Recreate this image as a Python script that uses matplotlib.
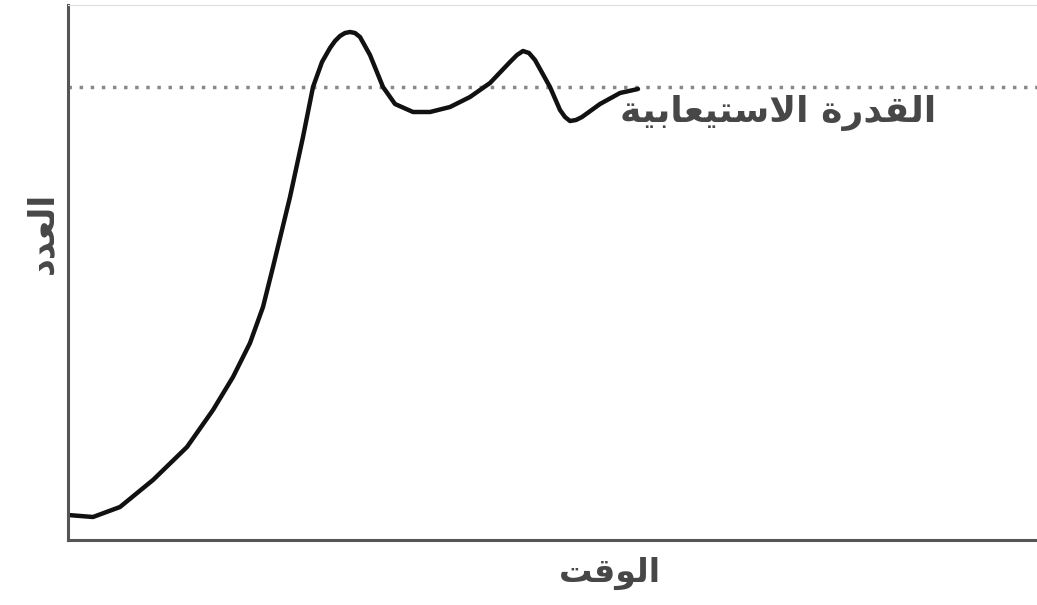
import matplotlib
matplotlib.use("Agg")
import matplotlib.pyplot as plt

# curve (time, number)
time = [0, 2.5, 5.2, 8.5, 11.9, 14.5, 16.5, 18.2, 19.5, 20.5, 22.2, 23.5,
        24.5, 25.4, 26.2, 26.7, 27.2, 27.7, 28.2, 28.7, 29.2, 30.2, 31.5,
        32.7, 34.5, 36.2, 38.2, 40.2, 42.2, 44.2, 44.9, 45.5, 46.1, 46.7,
        48.2, 49.2, 49.7, 50.2, 50.8, 51.4, 53.2, 55.2, 57.0]
number = [2.5, 2.3, 3.3, 6.0, 9.3, 13.0, 16.3, 19.7, 23.3, 27.3, 34.3, 40.3,
          45.3, 47.8, 49.2, 49.9, 50.4, 50.7, 50.8, 50.7, 50.3, 48.5, 45.3,
          43.6, 42.8, 42.8, 43.3, 44.3, 45.7, 47.8, 48.5, 48.9, 48.7, 48.0,
          45.3, 43.0, 42.3, 41.9, 42.0, 42.3, 43.6, 44.7, 45.1]
capacity = 45.3

# arabic labels, pre-shaped and in visual order
label_number = "\uFEA9\uFEAA\uFECC\uFEDF\uFE8D"
label_time = "\uFE96\uFED7\uFEEE\uFEDF\uFE8D"
label_capacity = ("\uFE94\uFEF4\uFE91\uFE8E\uFECC\uFEF4\uFE98\uFEB3\uFEFB\uFE8D"
                  " \uFE93\uFEAD\uFEAA\uFED8\uFEDF\uFE8D")

fig = plt.figure(figsize=(10.37, 6.05), dpi=100)
ax = fig.add_axes([68 / 1037, 65 / 605, 1 - 68 / 1037, 535 / 605])

ax.plot(time, number, color="#111111", lw=3.2, solid_capstyle="round",
        solid_joinstyle="round")
ax.axhline(capacity, color="#888888", lw=2.5, ls=(0, (1, 2.2)), zorder=1)

ax.set_xlim(0, 96.9)
ax.set_ylim(0, 53.5)
ax.set_xticks([])
ax.set_yticks([])
ax.spines["right"].set_visible(False)
ax.spines["top"].set_color("#dddddd")
for s in ("left", "bottom"):
    ax.spines[s].set_color("#555555")
    ax.spines[s].set_linewidth(2.2)

ax.text(55.2, 42.7, label_capacity, fontsize=26, fontweight="bold",
        color="#474747", va="center", ha="left", family="DejaVu Sans")
fig.text(42 / 1037, 1 - 233 / 605, label_number, fontsize=25, fontweight="bold",
         rotation=90, color="#474747", ha="center", va="center",
         family="DejaVu Sans")
fig.text(610 / 1037, 1 - 573 / 605, label_time, fontsize=24, fontweight="bold",
         color="#474747", ha="center", va="center", family="DejaVu Sans")

fig.savefig("out.png", dpi=100, facecolor="white")
